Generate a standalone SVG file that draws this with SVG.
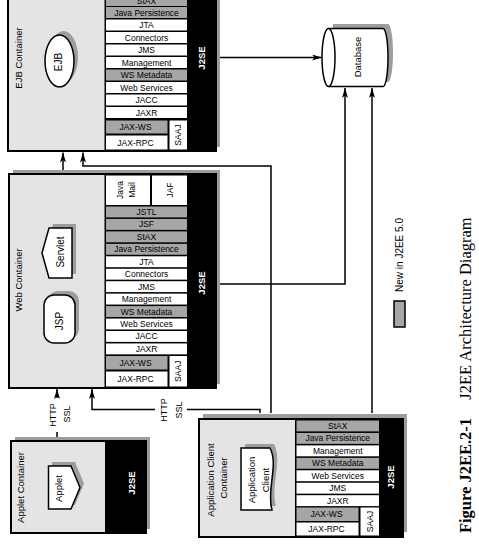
<svg xmlns="http://www.w3.org/2000/svg" width="479" height="546" viewBox="0 0 479 546">
<defs>
<style>
.c{fill:#e4e4e4;stroke:#000;stroke-width:2}
.sh{fill:#9d9d9d}
.w{fill:#fff}
.g{fill:#a6a6a6}
.k{fill:#000}
.nd{fill:#fff;stroke:#000;stroke-width:1.5}
.t{font-family:"Liberation Sans",Arial,sans-serif;font-size:8.5px;text-anchor:middle;fill:#000}
.lb{font-size:9.5px}
.j{fill:#fff;font-weight:bold;font-size:9.5px}
.ln{fill:none;stroke:#000;stroke-width:1.5}
.ti{font-family:"Liberation Serif","Times New Roman",serif;font-size:16.5px;text-anchor:middle;fill:#000}
</style>
<marker id="ah" markerWidth="10" markerHeight="6" refX="10" refY="3" orient="auto" markerUnits="userSpaceOnUse">
<path d="M0,0 L10,3 L0,6 L2.5,3 z" fill="#000"/>
</marker>
</defs>
<rect width="479" height="546" fill="#fff"/>

<g id="connectors">
<path class="ln" d="M220,57.5 H322" marker-end="url(#ah)"/>
<path class="ln" d="M220,284 H345 V88" marker-end="url(#ah)"/>
<path class="ln" d="M372,413 V88" marker-end="url(#ah)"/>
<path class="ln" d="M271,413 V166 H83 V152.5" marker-end="url(#ah)"/>
<path class="ln" d="M63,170 V152.5" marker-end="url(#ah)"/>
<path class="ln" d="M57,398 V389" marker-end="url(#ah)"/>
<path class="ln" d="M57,432 V437"/>
<path class="ln" d="M260,413 V409.5 H187"/>
<path class="ln" d="M155,409.5 H92 V389" marker-end="url(#ah)"/>
<text class="t" style="font-size:9px" transform="translate(55.5,415) rotate(-90)">HTTP</text>
<text class="t" style="font-size:9px" transform="translate(70,414) rotate(-90)">SSL</text>
<text class="t" style="font-size:9px" transform="translate(166.5,410) rotate(-90)">HTTP</text>
<text class="t" style="font-size:9px" transform="translate(182,410) rotate(-90)">SSL</text>
</g>

<g id="ejb-container">
<rect class="sh" x="12" y="-16" width="208" height="163"/>
<rect class="c" x="8" y="-12" width="208" height="163"/>
<rect class="k" x="104.5" y="-12" width="111.5" height="163"/>
<text class="t lb" transform="translate(22.4,58) rotate(-90)">EJB Container</text>
<ellipse class="sh" cx="63.5" cy="57" rx="14.5" ry="26"/>
<ellipse class="nd" cx="59.5" cy="61" rx="14.5" ry="26"/>
<text class="t" style="font-size:10px" transform="translate(62,62) rotate(-90)">EJB</text>
<rect class="g" x="106" y="-5" width="81" height="11"/><text class="t" x="146.5" y="3.5">StAX</text>
<rect class="g" x="106" y="7" width="81" height="11"/><text class="t" x="146.5" y="15.5">Java Persistence</text>
<rect class="w" x="106" y="19.5" width="81" height="11"/><text class="t" x="146.5" y="28">JTA</text>
<rect class="w" x="106" y="32" width="81" height="11"/><text class="t" x="146.5" y="40.5">Connectors</text>
<rect class="w" x="106" y="44.5" width="81" height="11"/><text class="t" x="146.5" y="53">JMS</text>
<rect class="w" x="106" y="57" width="81" height="11"/><text class="t" x="146.5" y="65.5">Management</text>
<rect class="g" x="106" y="69.5" width="81" height="11"/><text class="t" x="146.5" y="78">WS Metadata</text>
<rect class="w" x="106" y="82" width="81" height="11"/><text class="t" x="146.5" y="90.5">Web Services</text>
<rect class="w" x="106" y="94.5" width="81" height="11"/><text class="t" x="146.5" y="103">JACC</text>
<rect class="w" x="106" y="107" width="81" height="11"/><text class="t" x="146.5" y="115.5">JAXR</text>
<rect class="g" x="106" y="120.5" width="61.5" height="13"/><text class="t" x="135.5" y="130">JAX-WS</text>
<rect class="w" x="106" y="135.5" width="61.5" height="14"/><text class="t" x="135.5" y="145.5">JAX-RPC</text>
<rect class="w" x="169.5" y="120.5" width="17.5" height="29"/><text class="t" transform="translate(181.3,135) rotate(-90)">SAAJ</text>
<text class="t j" transform="translate(205.4,58) rotate(-90)">J2SE</text>
</g>

<g id="web-container">
<rect class="sh" x="13" y="170" width="207" height="214"/>
<rect class="c" x="9" y="174" width="207" height="214"/>
<rect class="k" x="104.5" y="174" width="111.5" height="214"/>
<text class="t lb" transform="translate(22.4,280) rotate(-90)">Web Container</text>
<polygon class="sh" points="53,224 76,224 76,274 53,274 46,249"/>
<polygon class="nd" points="49,228 72,228 72,278 49,278 42,253"/>
<text class="t" style="font-size:10px" transform="translate(63.5,252) rotate(-90)">Servlet</text>
<rect class="sh" x="48" y="291" width="31" height="48" rx="10"/>
<rect class="nd" x="44" y="295" width="31" height="48" rx="10"/>
<text class="t" style="font-size:10px" transform="translate(63,321) rotate(-90)">JSP</text>
<rect class="w" x="106" y="175.5" width="44" height="29.5"/>
<text class="t" transform="translate(123,190) rotate(-90)">Java</text>
<text class="t" transform="translate(135,190) rotate(-90)">Mail</text>
<rect class="w" x="152" y="175.5" width="35" height="29.5"/>
<text class="t" transform="translate(172.5,190) rotate(-90)">JAF</text>
<rect class="g" x="106" y="206.5" width="81" height="10.9"/><text class="t" x="146.5" y="214.95">JSTL</text>
<rect class="g" x="106" y="218.95" width="81" height="10.9"/><text class="t" x="146.5" y="227.4">JSF</text>
<rect class="g" x="106" y="231.4" width="81" height="10.9"/><text class="t" x="146.5" y="239.85">StAX</text>
<rect class="g" x="106" y="243.85" width="81" height="10.9"/><text class="t" x="146.5" y="252.3">Java Persistence</text>
<rect class="w" x="106" y="256.3" width="81" height="10.9"/><text class="t" x="146.5" y="264.75">JTA</text>
<rect class="w" x="106" y="268.75" width="81" height="10.9"/><text class="t" x="146.5" y="277.2">Connectors</text>
<rect class="w" x="106" y="281.2" width="81" height="10.9"/><text class="t" x="146.5" y="289.65">JMS</text>
<rect class="w" x="106" y="293.65" width="81" height="10.9"/><text class="t" x="146.5" y="302.1">Management</text>
<rect class="g" x="106" y="306.1" width="81" height="10.9"/><text class="t" x="146.5" y="314.55">WS Metadata</text>
<rect class="w" x="106" y="318.55" width="81" height="10.9"/><text class="t" x="146.5" y="327">Web Services</text>
<rect class="w" x="106" y="331" width="81" height="10.9"/><text class="t" x="146.5" y="339.45">JACC</text>
<rect class="w" x="106" y="343.45" width="81" height="10.9"/><text class="t" x="146.5" y="351.9">JAXR</text>
<rect class="g" x="106" y="356" width="61.5" height="13.5"/><text class="t" x="135.5" y="365.75">JAX-WS</text>
<rect class="w" x="106" y="371.5" width="61.5" height="15"/><text class="t" x="135.5" y="382">JAX-RPC</text>
<rect class="w" x="169.5" y="356" width="17.5" height="30.5"/><text class="t" transform="translate(181.3,371.25) rotate(-90)">SAAJ</text>
<text class="t j" transform="translate(205.4,283) rotate(-90)">J2SE</text>
</g>

<g id="applet-container">
<rect class="sh" x="15" y="437" width="135" height="92"/>
<rect class="c" x="11" y="441" width="135" height="92"/>
<rect class="k" x="105" y="441" width="41" height="92"/>
<text class="t lb" transform="translate(24,487.5) rotate(-90)">Applet Container</text>
<polygon class="sh" points="52,462 75,462 84,483.5 75,505 52,505"/>
<polygon class="nd" points="48.5,466 71,466 80,487.5 71,509 48.5,509"/>
<text class="t" style="font-size:9.5px" transform="translate(61.8,488.5) rotate(-90)">Applet</text>
<text class="t j" transform="translate(135,483) rotate(-90)">J2SE</text>
</g>

<g id="application-client-container">
<rect class="sh" x="203" y="414" width="204" height="118"/>
<rect class="c" x="199" y="419" width="204" height="118"/>
<rect class="k" x="295" y="419" width="108" height="118"/>
<text class="t lb" transform="translate(213.5,480) rotate(-90)">Application Client</text>
<text class="t lb" transform="translate(226.5,478) rotate(-90)">Container</text>
<path class="sh" d="M245,444 H274 C283,461 270,486 276,506 H245 Z"/>
<path class="nd" d="M241,448 H270 C279,465 266,490 272,510 H241 Z"/>
<text class="t lb" transform="translate(255,480) rotate(-90)">Application</text>
<text class="t lb" transform="translate(268.5,480) rotate(-90)">Client</text>
<rect class="g" x="296.5" y="420.5" width="82.5" height="10.9"/><text class="t" x="337.75" y="428.95">StAX</text>
<rect class="g" x="296.5" y="432.95" width="82.5" height="10.9"/><text class="t" x="337.75" y="441.4">Java Persistence</text>
<rect class="w" x="296.5" y="445.4" width="82.5" height="10.9"/><text class="t" x="337.75" y="453.85">Management</text>
<rect class="g" x="296.5" y="457.85" width="82.5" height="10.9"/><text class="t" x="337.75" y="466.3">WS Metadata</text>
<rect class="w" x="296.5" y="470.3" width="82.5" height="10.9"/><text class="t" x="337.75" y="478.75">Web Services</text>
<rect class="w" x="296.5" y="482.75" width="82.5" height="10.9"/><text class="t" x="337.75" y="491.2">JMS</text>
<rect class="w" x="296.5" y="495.2" width="82.5" height="10.9"/><text class="t" x="337.75" y="503.65">JAXR</text>
<rect class="g" x="296.5" y="507.5" width="62" height="13.5"/><text class="t" x="326.5" y="517.25">JAX-WS</text>
<rect class="w" x="296.5" y="522.5" width="62" height="13"/><text class="t" x="326.5" y="532">JAX-RPC</text>
<rect class="w" x="360.5" y="507.5" width="18.5" height="28"/><text class="t" transform="translate(372.8,521.5) rotate(-90)">SAAJ</text>
<text class="t j" transform="translate(394,477) rotate(-90)">J2SE</text>
</g>

<g id="database">
<path class="sh" d="M333,24 H388 A5,29 0 0 1 388,82 H333 Z"/>
<path class="nd" d="M328.5,28.5 H383 A5,29 0 0 1 383,86.5 H328.5"/>
<ellipse class="nd" cx="328.5" cy="57.5" rx="6.5" ry="29"/>
<text class="t lb" transform="translate(361,57) rotate(-90)">Database</text>
</g>

<g id="legend">
<rect x="394" y="301" width="11" height="26" fill="#a6a6a6" stroke="#000" stroke-width="1.5"/>
<text class="t" style="font-size:10px" transform="translate(402.5,255) rotate(-90)">New in J2EE 5.0</text>
</g>

<g id="caption">
<text class="ti" transform="translate(471,308.5) rotate(-90)">J2EE Architecture Diagram</text>
<text class="ti" style="font-weight:bold" transform="translate(471,475.5) rotate(-90)">Figure J2EE.2-1</text>
</g>
</svg>
